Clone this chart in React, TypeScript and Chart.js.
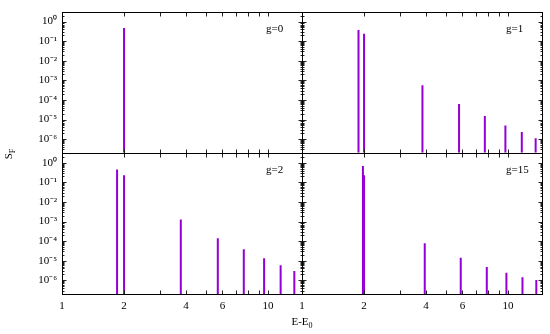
import React, { useEffect, useRef } from 'react';
import { Chart, registerables } from 'chart.js';

Chart.register(...registerables);

// ---- data ----
const PANEL_LABELS = ['g=0', 'g=1', 'g=2', 'g=15'];
const X_TICKS = [1, 2, 4, 6, 10];
const X_MINOR = [3, 5, 7, 8, 9];
const Y_TICKS = [1e-6, 1e-5, 1e-4, 1e-3, 1e-2, 1e-1, 1];

const G0_X = [2.0];
const G0_Y = [0.47];
const G1_X = [1.88, 2.0, 3.84, 5.78, 7.71, 9.7, 11.65, 13.6];
const G1_Y = [0.37, 0.24, 5.6e-4, 6.1e-5, 1.5e-5, 5e-6, 2.3e-6, 1.1e-6];
const G2_X = [1.85, 2.0, 3.77, 5.7, 7.62, 9.56, 11.5, 13.4];
const G2_Y = [0.45, 0.23, 1.25e-3, 1.4e-4, 3.8e-5, 1.35e-5, 5.9e-6, 2.95e-6];
const G15_X = [1.975, 2.0, 3.94, 5.89, 7.88, 9.81, 11.74, 13.7];
const G15_Y = [0.68, 0.23, 7.8e-5, 1.4e-5, 4.8e-6, 2.4e-6, 1.44e-6, 1.05e-6];

const X_MIN = 1;
const X_MAX = 14.6;
const Y_MIN = 2e-7;
const Y_MAX = 3.2;

const COLOR = '#9400D3';
const FONT = "'Liberation Serif', 'Times New Roman', serif";

const SUP: Record<string, string> = {
  '0': '⁰', '1': '¹', '2': '²', '3': '³', '4': '⁴', '5': '⁵', '6': '⁶', '7': '⁷', '8': '⁸', '9': '⁹', '-': '⁻',
};
const fmtPow = (v: number) => {
  const e = Math.round(Math.log10(v));
  return '10' + String(e).split('').map((c) => SUP[c]).join('');
};

const pts = (xs: number[], ys: number[]) => xs.map((x, i) => ({ x, y: ys[i] }));

const panelPlugin = {
  id: 'panels',
  afterDatasetsDraw(chart: any) {
    const ctx = chart.ctx as CanvasRenderingContext2D;
    const s = chart.scales;
    const panels = [
      [s.xL, s.yT],
      [s.xR, s.yT],
      [s.xL, s.yB],
      [s.xR, s.yB],
    ];
    ctx.save();
    ctx.strokeStyle = '#222';
    ctx.lineWidth = 1;
    panels.forEach(([xs, ys]: any[], i: number) => {
      const l = Math.round(xs.left) + 0.5;
      const r = Math.round(xs.right) + 0.5;
      const t = Math.round(ys.top) + 0.5;
      const b = Math.round(ys.bottom) + 0.5;
      ctx.beginPath();
      for (let d = -7; d <= 0; d++) {
        for (let k = 1; k <= 9; k++) {
          const v = k * Math.pow(10, d);
          if (v < Y_MIN || v > Y_MAX) continue;
          const len = k === 1 ? 4 : 2;
          const p = Math.round(ys.getPixelForValue(v)) + 0.5;
          ctx.moveTo(l, p);
          ctx.lineTo(l + len, p);
          ctx.moveTo(r, p);
          ctx.lineTo(r - len, p);
        }
      }
      [...X_TICKS, ...X_MINOR].forEach((v) => {
        if (v <= X_MIN || v >= X_MAX) return;
        const p = Math.round(xs.getPixelForValue(v)) + 0.5;
        ctx.moveTo(p, b);
        ctx.lineTo(p, b - 4);
        ctx.moveTo(p, t);
        ctx.lineTo(p, t + 4);
      });
      ctx.stroke();
      ctx.strokeStyle = '#000';
      ctx.strokeRect(l, t, r - l, b - t);
      ctx.strokeStyle = '#222';
      ctx.fillStyle = '#000';
      ctx.font = `11px ${FONT}`;
      ctx.textAlign = 'left';
      ctx.textBaseline = 'alphabetic';
      ctx.fillText(PANEL_LABELS[i], xs.left + 0.85 * (xs.right - xs.left), ys.top + 20);
    });

    // y title S_F
    ctx.save();
    ctx.translate(12, 154);
    ctx.rotate(-Math.PI / 2);
    ctx.font = `11px ${FONT}`;
    const wS = ctx.measureText('S').width;
    ctx.font = `8px ${FONT}`;
    const wF = ctx.measureText('F').width;
    const tot = wS + wF;
    ctx.font = `11px ${FONT}`;
    ctx.fillText('S', -tot / 2, 0);
    ctx.font = `8px ${FONT}`;
    ctx.fillText('F', -tot / 2 + wS, 3);
    ctx.restore();

    // x title E-E0
    const cx = (s.xL.left + s.xR.right) / 2;
    ctx.font = `11px ${FONT}`;
    const wE = ctx.measureText('E-E').width;
    ctx.font = `8px ${FONT}`;
    const w0 = ctx.measureText('0').width;
    const tx = cx - (wE + w0) / 2;
    ctx.font = `11px ${FONT}`;
    ctx.fillText('E-E', tx, 325);
    ctx.font = `8px ${FONT}`;
    ctx.fillText('0', tx + wE, 328);
    ctx.restore();
  },
};

const xScale = (stackPos: number) => ({
  type: 'logarithmic' as const,
  position: 'bottom' as const,
  stack: 'x',
  stackWeight: 1,
  weight: stackPos,
  min: X_MIN,
  max: X_MAX,
  offset: false,
  grid: { display: false, drawTicks: false, offset: false },
  border: { display: false },
  afterBuildTicks: (sc: any) => {
    sc.ticks = X_TICKS.map((v) => ({ value: v }));
  },
  afterFit: (sc: any) => {
    sc.height = 40;
  },
  ticks: {
    autoSkip: false,
    maxRotation: 0,
    minRotation: 0,
    padding: 6,
    color: '#000',
    font: { family: FONT, size: 11 },
    callback: (v: any) => String(v),
  },
});

const yScale = (stackPos: number) => ({
  type: 'logarithmic' as const,
  position: 'left' as const,
  stack: 'y',
  stackWeight: 1,
  weight: stackPos,
  min: Y_MIN,
  max: Y_MAX,
  grid: { display: false, drawTicks: false },
  border: { display: false },
  afterBuildTicks: (sc: any) => {
    sc.ticks = Y_TICKS.map((v) => ({ value: v }));
  },
  afterFit: (sc: any) => {
    sc.width = 62;
  },
  ticks: {
    autoSkip: false,
    padding: 5,
    color: '#000',
    font: { family: FONT, size: 11 },
    callback: (v: any) => fmtPow(Number(v)),
  },
});

export default function App() {
  const ref = useRef<HTMLCanvasElement | null>(null);
  useEffect(() => {
    if (!ref.current) return;
    const common = {
      backgroundColor: COLOR,
      borderWidth: 0,
      barThickness: 2,
      inflateAmount: 0,
      grouped: false,
      base: Y_MIN,
    };
    const chart = new Chart(ref.current, {
      type: 'bar',
      data: {
        datasets: [
          { ...common, label: PANEL_LABELS[0], data: pts(G0_X, G0_Y), xAxisID: 'xL', yAxisID: 'yT' },
          { ...common, label: PANEL_LABELS[1], data: pts(G1_X, G1_Y), xAxisID: 'xR', yAxisID: 'yT' },
          { ...common, label: PANEL_LABELS[2], data: pts(G2_X, G2_Y), xAxisID: 'xL', yAxisID: 'yB' },
          { ...common, label: PANEL_LABELS[3], data: pts(G15_X, G15_Y), xAxisID: 'xR', yAxisID: 'yB' },
        ] as any,
      },
      options: {
        animation: false,
        responsive: false,
        devicePixelRatio: 1,
        layout: { padding: { top: 5, right: 8, bottom: 0, left: 0 } },
        plugins: { legend: { display: false }, tooltip: { enabled: false } },
        scales: {
          xL: xScale(0),
          xR: xScale(1),
          yT: yScale(1),
          yB: yScale(0),
        } as any,
      },
      plugins: [panelPlugin],
    });
    return () => chart.destroy();
  }, []);
  return (
    <div style={{ position: 'absolute', left: 0, top: 0, width: 550, height: 334, background: '#fff' }}>
      <canvas ref={ref} width={550} height={334} />
    </div>
  );
}
